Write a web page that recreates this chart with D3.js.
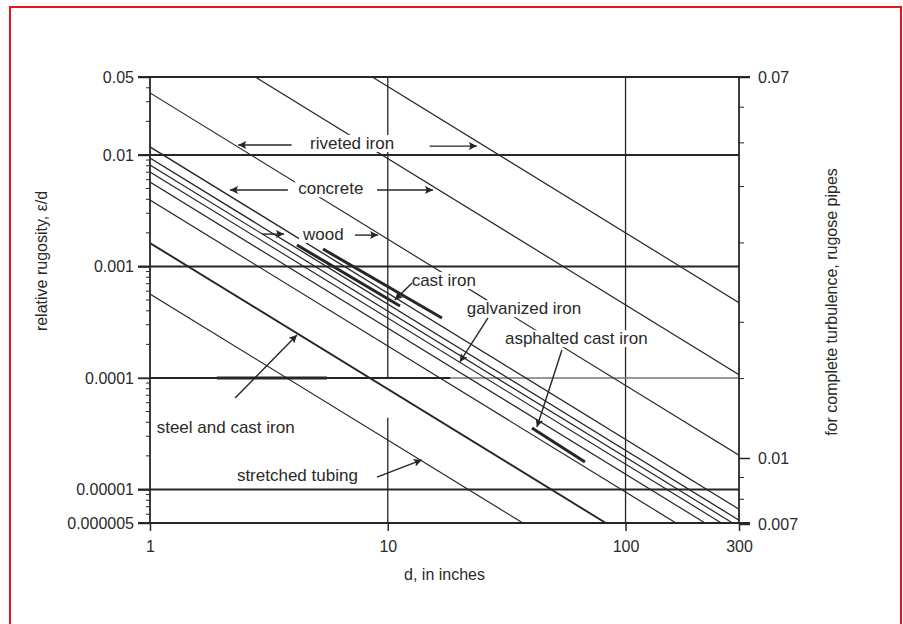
<!DOCTYPE html>
<html><head><meta charset="utf-8">
<script src="https://cdn.jsdelivr.net/npm/d3@7"></script>
<style>
body{margin:0;background:#fff}
text{font-family:"Liberation Sans",Arial,sans-serif;fill:#2a2a2a}
</style>
</head><body><svg id="c" width="903" height="624"></svg>
<script>
// ---------- data ----------
const xTicks = [1, 10, 100, 300];
const xTickLabels = ["1", "10", "100", "300"];
const yTicks = [0.05, 0.01, 0.001, 0.0001, 0.00001, 0.000005];
const yTickLabels = ["0.05", "0.01", "0.001", "0.0001", "0.00001", "0.000005"];
const fTicks = [0.07, 0.01, 0.007];
const fTickLabels = ["0.07", "0.01", "0.007"];
const fMinorTicks = [0.06, 0.05, 0.04, 0.03, 0.02, 0.015, 0.009, 0.008];
// vertical grid pieces: [d, e/d top, e/d bottom]
const vGrid = [[10, 0.05, 0.0001], [10, 4.4e-5, 0.000005], [100, 0.05, 0.000005]];
const hGrid = [0.01, 0.001, 0.0001, 0.00001];
// roughness lines: [d start, e/d start, d end, e/d end]
const roughLines = [
  [8.61, 0.05, 300, 4.73e-4],
  [2.77, 0.05, 300, 1.07e-4],
  [1, 0.0360, 300, 2.03e-5],
  [1, 0.0118, 300, 6.65e-6],
  [1, 0.0094, 300, 5.3e-6],
  [1, 0.00813, 282, 5e-6],
  [1, 0.00703, 253, 5e-6],
  [1, 0.00571, 216, 5e-6],
  [1, 0.00394, 163, 5e-6],
  [1, 0.00162, 82.6, 5e-6],
  [1, 0.000566, 37, 5e-6]
];
const roughWidths = [1.2, 1.2, 1.2, 1.3, 1.3, 1.2, 1.2, 1.2, 1.2, 1.9, 1.2];
// heavier segments: [d0, e/d0, d1, e/d1, width]
const thickSegs = [
  [4.15, 0.001557, 11.26, 4.42e-4, 3],
  [5.34, 0.001433, 16.9, 3.45e-4, 3],
  [40.4, 3.56e-5, 67.5, 1.76e-5, 3],
  [1, 0.0001, 18.3, 0.0001, 2],
  [1.91, 0.0001, 5.55, 0.0001, 3]
];
// labels: [text, d, e/d]
const labels = [
  ["riveted iron", 4.71, 0.0128],
  ["concrete", 4.20, 0.00502],
  ["wood", 4.40, 0.00195],
  ["cast iron", 12.6, 7.55e-4],
  ["galvanized iron", 21.5, 4.22e-4],
  ["asphalted cast iron", 31.1, 2.27e-4],
  ["steel and cast iron", 1.067, 3.66e-5],
  ["stretched tubing", 2.32, 1.35e-5]
];
// arrows: [d tail, e/d tail, d tip, e/d tip]
const arrows = [
  [3.94, 0.01228, 2.35, 0.01228],
  [15.0, 0.0120, 23.7, 0.0120],
  [3.80, 0.00485, 2.17, 0.00485],
  [9.01, 0.00485, 15.5, 0.00485],
  [2.96, 0.00195, 3.66, 0.00195],
  [7.28, 0.00191, 9.10, 0.00191],
  [12.65, 7.10e-4, 10.7, 5.0e-4],
  [26.4, 3.45e-4, 20.1, 1.39e-4],
  [54.0, 1.78e-4, 42.4, 3.63e-5],
  [2.28, 6.61e-5, 4.15, 2.43e-4],
  [9.01, 1.29e-5, 13.9, 1.84e-5]
];

// ---------- drawing ----------
const svg = d3.select("#c");
svg.append("rect").attr("x", 10).attr("y", 7).attr("width", 891).attr("height", 700)
  .attr("fill", "#fff").attr("stroke", "#e8141b").attr("stroke-width", 2);

const x = d3.scaleLog().domain([1, 300]).range([150, 739]);
const y = d3.scaleLog().domain([0.000005, 0.05]).range([523, 77]);
const f = d3.scaleLog().domain([0.007, 0.01, 0.07]).range([524, 458, 77]);

const ink = "#262626";
const defs = svg.append("defs");
defs.append("clipPath").attr("id", "plot")
  .append("rect").attr("x", x(1)).attr("y", y(0.05)).attr("width", x(300) - x(1)).attr("height", y(0.000005) - y(0.05));
defs.append("marker").attr("id", "ah").attr("viewBox", "0 0 10 10")
  .attr("refX", 10).attr("refY", 5).attr("markerWidth", 13).attr("markerHeight", 8)
  .attr("markerUnits", "userSpaceOnUse").attr("orient", "auto")
  .append("path").attr("d", "M0,0 L10,5 L0,10 L2,5 Z").attr("fill", ink);

// vertical grid
svg.append("g").selectAll("line").data(vGrid).join("line")
  .attr("x1", d => x(d[0])).attr("x2", d => x(d[0])).attr("y1", d => y(d[1])).attr("y2", d => y(d[2]))
  .attr("stroke", ink).attr("stroke-width", 1.3);
// horizontal grid
svg.append("g").selectAll("line").data(hGrid).join("line")
  .attr("x1", x(1) - 12).attr("x2", x(300)).attr("y1", d => y(d)).attr("y2", d => y(d))
  .attr("stroke", d => d === 0.0001 ? "#777" : ink).attr("stroke-width", d => d === 0.0001 ? 1.6 : 2);
// frame top / bottom (shared with right axis ticks)
svg.append("g").selectAll("line").data([0.05, 0.000005]).join("line")
  .attr("x1", x(1) - 12).attr("x2", x(300) + 11).attr("y1", d => y(d)).attr("y2", d => y(d))
  .attr("stroke", ink).attr("stroke-width", 2.2);

// roughness lines
const gl = svg.append("g").attr("clip-path", "url(#plot)");
gl.selectAll("line.r").data(roughLines).join("line").attr("class", "r")
  .attr("x1", d => x(d[0])).attr("y1", d => y(d[1])).attr("x2", d => x(d[2])).attr("y2", d => y(d[3]))
  .attr("stroke", ink).attr("stroke-width", (d, i) => roughWidths[i]);
gl.selectAll("line.t").data(thickSegs).join("line").attr("class", "t")
  .attr("x1", d => x(d[0])).attr("y1", d => y(d[1])).attr("x2", d => x(d[2])).attr("y2", d => y(d[3]))
  .attr("stroke", ink).attr("stroke-width", d => d[4]);

// left axis
const gL = svg.append("g").attr("transform", `translate(${x(1)},0)`);
gL.call(d3.axisLeft(y).tickValues(yTicks).tickFormat((d, i) => yTickLabels[i]).tickSize(12).tickPadding(4));
const minorY = y.ticks().filter(v => !yTicks.includes(v) && v >= 0.000005 && v <= 0.05);
gL.selectAll("line.mn").data(minorY).join("line").attr("class", "mn")
  .attr("x1", -4).attr("x2", 0).attr("y1", d => y(d)).attr("y2", d => y(d)).attr("stroke", ink);
// bottom axis
const gB = svg.append("g").attr("transform", `translate(0,${y(0.000005)})`);
gB.call(d3.axisBottom(x).tickValues(xTicks).tickFormat((d, i) => xTickLabels[i]).tickSize(8).tickPadding(10));
// right axis
const gR = svg.append("g").attr("transform", `translate(${x(300)},0)`);
gR.call(d3.axisRight(f).tickValues(fTicks).tickFormat((d, i) => fTickLabels[i]).tickSize(11).tickPadding(8));
gR.selectAll("line.mn").data(fMinorTicks).join("line").attr("class", "mn")
  .attr("x1", 0).attr("x2", 5).attr("y1", d => f(d)).attr("y2", d => f(d)).attr("stroke", ink);

[gL, gB, gR].forEach(g => {
  g.select(".domain").attr("stroke", ink).attr("stroke-width", 1.8);
  g.selectAll(".tick line").attr("stroke", ink).attr("stroke-width", 1.5);
  g.selectAll(".tick text").attr("font-size", 16).attr("fill", "#2a2a2a")
    .attr("font-family", "Liberation Sans, Arial, sans-serif");
});
gB.select(".domain").remove();
gL.select(".domain").attr("d", `M0,${y(0.05)}V${y(0.000005)}`);
gR.select(".domain").attr("d", `M0,${f(0.07)}V${f(0.007)}`);

// labels with white backing
const gT = svg.append("g");
labels.forEach(([t, dd, vv]) => {
  const tx = gT.append("text").attr("x", x(dd)).attr("y", y(vv)).attr("dy", "0.35em")
    .attr("font-size", 17).text(t);
  const b = tx.node().getBBox();
  gT.insert("rect", "text").attr("x", b.x - 3).attr("y", b.y + 1).attr("width", b.width + 6).attr("height", b.height - 2)
    .attr("fill", "#fff");
});
// arrows
svg.append("g").selectAll("line").data(arrows).join("line")
  .attr("x1", d => x(d[0])).attr("y1", d => y(d[1])).attr("x2", d => x(d[2])).attr("y2", d => y(d[3]))
  .attr("stroke", ink).attr("stroke-width", 1.4).attr("marker-end", "url(#ah)");

// axis titles
svg.append("text").attr("x", (x(1) + x(300)) / 2).attr("y", 580).attr("text-anchor", "middle")
  .attr("font-size", 16).text("d, in inches");
svg.append("text").attr("transform", `translate(47,261) rotate(-90)`).attr("text-anchor", "middle")
  .attr("font-size", 16).text("relative rugosity, ε/d");
svg.append("text").attr("transform", `translate(837,302) rotate(-90)`).attr("text-anchor", "middle")
  .attr("font-size", 16).text("for complete turbulence, rugose pipes");
</script></body></html>
